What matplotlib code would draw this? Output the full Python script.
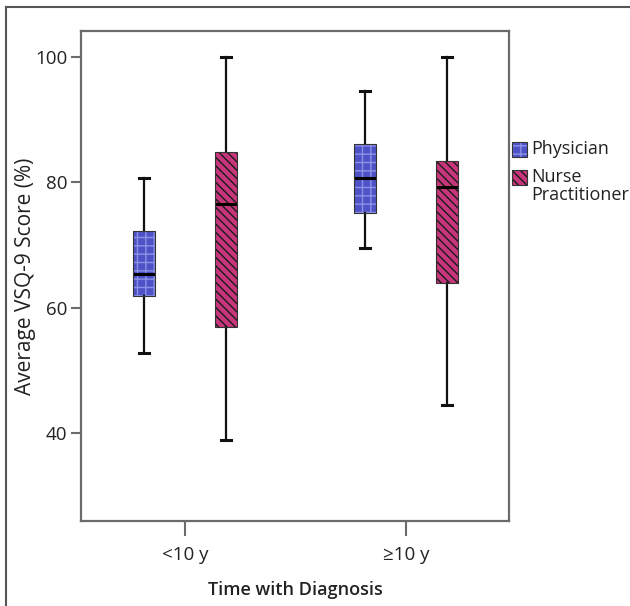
"""
VSQ-9 score by time with diagnosis — boxplot recreation
"""
import matplotlib
matplotlib.use('Agg')
import matplotlib.pyplot as plt
import matplotlib.patches as mpatches
from matplotlib.lines import Line2D

plt.rcParams['font.family'] = ['Open Sans', 'DejaVu Sans']
plt.rcParams['hatch.linewidth'] = 1.0

# ── data ─────────────────────────────────────────────────────────────────────
groups = ['<10 y', '≥10 y']
series = ['Physician', 'Nurse\nPractitioner']
# per series, per group: [whisker low, q1, median, q3, whisker high]
physician = [[52.8, 61.8, 65.3, 72.2, 80.6],
             [69.5, 75.1, 80.6, 86.1, 94.5]]
nurse = [[38.9, 56.9, 76.5, 84.8, 100.0],
         [44.5, 64.0, 79.2, 83.4, 100.0]]

COLORS = {'phys': '#4d52c6', 'phys_hatch': '#8c91e8',
          'np': '#c7357a', 'np_hatch': '#1a1a1a',
          'edge': '#333333', 'spine': '#6b6b6b', 'text': '#222222'}
PHYS_HATCH = '++'
NP_HATCH = '\\\\\\\\'

fig = plt.figure(figsize=(6.30, 6.06), dpi=100, facecolor='white')
ax = fig.add_axes([81/630, 1 - 521/606, 428/630, 490/606])

offset = 0.186
width = 0.1


def draw(data, shift, face, hatch_col, hatch):
    stats = []
    for lo, q1, med, q3, hi in data:
        stats.append({'whislo': lo, 'q1': q1, 'med': med, 'q3': q3, 'whishi': hi,
                      'fliers': []})
    pos = [i + shift for i in range(len(data))]
    bp = ax.bxp(stats, positions=pos, widths=width, patch_artist=True,
                showfliers=False,
                boxprops=dict(facecolor=face, edgecolor=hatch_col, linewidth=0),
                medianprops=dict(color='black', linewidth=2.2),
                whiskerprops=dict(color='#111111', linewidth=1.6),
                capprops=dict(color='#111111', linewidth=2.2),
                capwidths=0.045)
    for b in bp['boxes']:
        b.set_hatch(hatch)
        outline = mpatches.PathPatch(b.get_path(), transform=b.get_transform(),
                                     fill=False, edgecolor=COLORS['edge'],
                                     linewidth=0.8, zorder=b.get_zorder() + 0.1)
        ax.add_patch(outline)
    return bp


draw(physician, -offset, COLORS['phys'], COLORS['phys_hatch'], PHYS_HATCH)
draw(nurse, offset, COLORS['np'], COLORS['np_hatch'], NP_HATCH)

ax.set_xlim(-0.47, 1.466)
ax.set_ylim(26.0, 104.1)
ax.set_xticks(range(len(groups)))
ax.set_xticklabels(groups)
ax.set_yticks([40, 60, 80, 100])
ax.tick_params(axis='both', direction='out', colors=COLORS['spine'],
               labelcolor=COLORS['text'], labelsize=13.5, width=1.5)
ax.tick_params(axis='y', length=7, pad=3)
ax.tick_params(axis='x', length=11, pad=7)
for spine in ax.spines.values():
    spine.set_color(COLORS['spine'])
    spine.set_linewidth(1.6)

ax.set_ylabel('Average VSQ-9 Score (%)', fontsize=15, color=COLORS['text'],
              labelpad=-1)
ax.set_xlabel('Time with Diagnosis', fontsize=13, fontweight='semibold',
              color=COLORS['text'], labelpad=12)

# legend, drawn by hand so the patch sits on the first text line
leg_items = [(series[0], COLORS['phys'], COLORS['phys_hatch'], PHYS_HATCH),
             (series[1], COLORS['np'], COLORS['np_hatch'], NP_HATCH)]
leg_top = [142, 170]
for (label, face, hcol, hatch), top in zip(leg_items, leg_top):
    r = mpatches.Rectangle((512/630, 1 - (top + 15)/606), 15/630, 15/606,
                           transform=fig.transFigure, facecolor=face,
                           edgecolor=hcol, hatch=hatch, linewidth=0)
    fig.add_artist(r)
    fig.add_artist(mpatches.Rectangle((512/630, 1 - (top + 15)/606), 15/630, 15/606,
                                      transform=fig.transFigure, fill=False,
                                      edgecolor=COLORS['edge'], linewidth=0.8))
    fig.text(531/630, 1 - (top - 2)/606, label, fontsize=13, color=COLORS['text'],
             va='top', ha='left', linespacing=1.0)

# outer frame (left and top edges visible)
fig.add_artist(Line2D([6/630, 6/630], [0, 1 - 7/606], transform=fig.transFigure,
                      color='#555555', linewidth=1.5))
fig.add_artist(Line2D([6/630, 1], [1 - 7/606, 1 - 7/606], transform=fig.transFigure,
                      color='#555555', linewidth=1.5))

fig.savefig('out.png', dpi=100, facecolor='white')
